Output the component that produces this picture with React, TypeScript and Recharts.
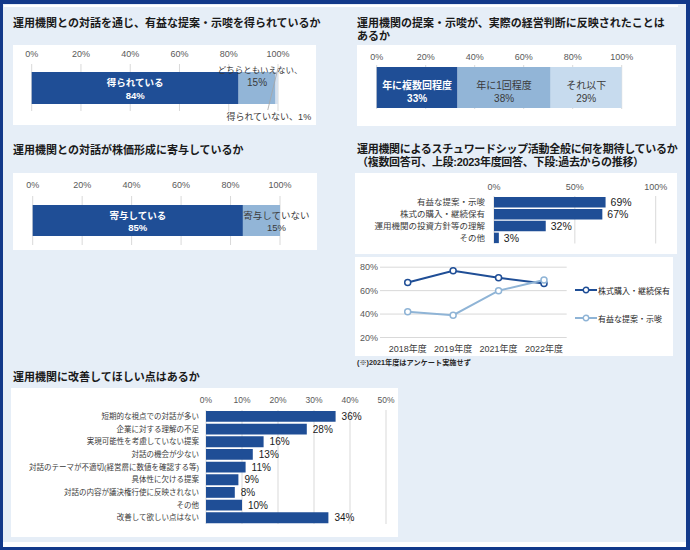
import {
  BarChart,
  Bar,
  XAxis,
  YAxis,
  CartesianGrid,
  LabelList,
  LineChart,
  Line,
} from "recharts";

// 対話を通じて有益な提案・示唆を得られているか
const insightLabels = ["得られている", "どちらともいえない、", "得られていない、"];
const insightValues = [84, 15, 1];

// 提案・示唆が経営判断に反映されたか
const reflectLabels = ["年に複数回程度", "年に1回程度", "それ以下"];
const reflectValues = [33, 38, 29];

// 株価形成に寄与しているか
const priceLabels = ["寄与している", "寄与していない"];
const priceValues = [85, 15];

// スチュワードシップ活動に期待すること (2023年度)
const expectLabels = [
  "有益な提案・示唆",
  "株式の購入・継続保有",
  "運用機関の投資方針等の理解",
  "その他",
];
const expectValues = [69, 67, 32, 3];

// 過去からの推移
const trendYears = ["2018年度", "2019年度", "2021年度", "2022年度"];
const trendHolding = [67, 77, 71, 66];
const trendAdvice = [42, 39, 60, 69];

// 改善してほしい点
const improveLabels = [
  "短期的な視点での対話が多い",
  "企業に対する理解の不足",
  "実現可能性を考慮していない提案",
  "対話の機会が少ない",
  "対話のテーマが不適切(経営層に数値を確認する等)",
  "具体性に欠ける提案",
  "対話の内容が議決権行使に反映されない",
  "その他",
  "改善して欲しい点はない",
];
const improveValues = [36, 28, 16, 13, 11, 9, 8, 10, 34];

const ticks100 = [0, 20, 40, 60, 80, 100];
const ticksExpect = [0, 50, 100];
const ticksTrend = [20, 40, 60, 80];
const ticksImprove = [0, 10, 20, 30, 40, 50];

const FONT = "'Liberation Sans', 'Noto Sans CJK JP', sans-serif";
const BG = "#e6eef7";
const FRAME = "#12398a";
const NAVY = "#1f4e96";
const MID = "#92b5d7";
const PALE = "#c7dbee";
const TINY = "#d6e1ee";
const LIGHT_LINE = "#8fb4d6";
const GRID = "#d9d9d9";
const TICK = "#595959";
const TEXT = "#3a3a3a";

const pct = (v: any) => `${v}%`;

type Seg = { x: number; y: number; w: number; h: number; value: number };

function seg(p: any): Seg {
  const s =
    typeof p.x === "number" && typeof p.width === "number" ? p : p.viewBox ?? p;
  return {
    x: Number(s.x),
    y: Number(s.y),
    w: Number(s.width),
    h: Number(s.height),
    value: Number(p.value),
  };
}

function inside(
  s: Seg,
  lines: string[],
  dy: number[],
  opts: { fill: string; size?: number; bold?: boolean; dx?: number }
) {
  const cx = s.x + s.w / 2 + (opts.dx ?? 0);
  return (
    <g>
      {lines.map((t, i) => (
        <text
          key={i}
          x={cx}
          y={s.y + dy[i]}
          textAnchor="middle"
          dominantBaseline="central"
          fill={opts.fill}
          fontSize={opts.size ?? 10}
          fontWeight={opts.bold ? 700 : 400}
          fontFamily={FONT}
        >
          {t}
        </text>
      ))}
    </g>
  );
}

function Title({ left, top, spacing, children }: any) {
  return (
    <div
      style={{
        position: "absolute",
        left,
        top,
        fontSize: 11,
        lineHeight: "12.5px",
        fontWeight: 700,
        color: "#1a1a1a",
        whiteSpace: "nowrap",
        letterSpacing: spacing ?? 0,
      }}
    >
      {children}
    </div>
  );
}

function Box({ left, top, width, height, children }: any) {
  return (
    <div
      style={{ position: "absolute", left, top, width, height, background: "#fff" }}
    >
      {children}
    </div>
  );
}

function CatTick({ x, y, payload, size }: any) {
  return (
    <text
      x={x}
      y={y}
      textAnchor="end"
      dominantBaseline="central"
      fontSize={size}
      fill={TEXT}
      fontFamily={FONT}
    >
      {payload.value}
    </text>
  );
}

function PctStack({
  width,
  height,
  margin,
  axisHeight,
  tickSize,
  barSize,
  values,
  colors,
  renderers,
}: any) {
  const row: Record<string, number | string> = { name: "total" };
  values.forEach((v: number, i: number) => {
    row[`s${i}`] = v;
  });
  return (
    <BarChart width={width} height={height} data={[row]} layout="vertical" margin={margin}>
      <CartesianGrid horizontal={false} stroke={GRID} />
      <XAxis
        type="number"
        orientation="top"
        domain={[0, 100]}
        ticks={ticks100}
        interval={0}
        tickFormatter={pct}
        axisLine={false}
        tickLine={false}
        height={axisHeight}
        tickSize={tickSize}
        tickMargin={0}
        tick={{ fill: TICK, fontSize: 9, fontFamily: FONT }}
      />
      <YAxis type="category" dataKey="name" hide />
      {values.map((_: number, i: number) => (
        <Bar
          key={i}
          dataKey={`s${i}`}
          stackId="a"
          fill={colors[i]}
          barSize={barSize}
          isAnimationActive={false}
        >
          <LabelList dataKey={`s${i}`} content={renderers[i]} />
        </Bar>
      ))}
    </BarChart>
  );
}

const insightRenderers = [
  (p: any) => {
    const s = seg(p);
    return inside(s, [insightLabels[0], pct(s.value)], [10.5, 23.5], {
      fill: "#fff",
      bold: true,
      size: 9.5,
    });
  },
  (p: any) => {
    const s = seg(p);
    return (
      <g>
        {inside(s, [pct(s.value)], [10.5], { fill: TEXT })}
        {inside(s, [insightLabels[1]], [-2], { fill: TEXT, size: 8.5, dx: 3 })}
      </g>
    );
  },
  (p: any) => {
    const s = seg(p);
    const cx = s.x + s.w / 2;
    return (
      <g>
        <line
          x1={cx + 1}
          y1={s.y - 3}
          x2={cx - 9}
          y2={s.y + s.h + 6}
          stroke="#a6a6a6"
          strokeWidth={0.8}
        />
        <text
          x={cx - 8}
          y={s.y + s.h + 13}
          textAnchor="middle"
          dominantBaseline="central"
          fill={TEXT}
          fontSize={9}
          fontFamily={FONT}
        >
          {insightLabels[2] + pct(s.value)}
        </text>
      </g>
    );
  },
];

const reflectRenderers = [
  (p: any) => {
    const s = seg(p);
    return inside(s, [reflectLabels[0], pct(s.value)], [18.5, 31.8], {
      fill: "#fff",
      bold: true,
    });
  },
  (p: any) => {
    const s = seg(p);
    return inside(s, [reflectLabels[1], pct(s.value)], [18.5, 31.8], { fill: TEXT });
  },
  (p: any) => {
    const s = seg(p);
    return inside(s, [reflectLabels[2], pct(s.value)], [18.5, 31.8], { fill: TEXT });
  },
];

const priceRenderers = [
  (p: any) => {
    const s = seg(p);
    return inside(s, [priceLabels[0], pct(s.value)], [10, 22.7], {
      fill: "#fff",
      bold: true,
      size: 9.5,
    });
  },
  (p: any) => {
    const s = seg(p);
    return inside(s, [priceLabels[1], pct(s.value)], [10, 22.7], {
      fill: TEXT,
      size: 9.5,
      dx: 15,
    });
  },
];

function LegendRow({ top, color, label }: any) {
  return (
    <div
      style={{
        position: "absolute",
        left: 575,
        top,
        height: 10,
        display: "flex",
        alignItems: "center",
        whiteSpace: "nowrap",
      }}
    >
      <svg width={22} height={10}>
        <line x1={0} y1={5} x2={22} y2={5} stroke={color} strokeWidth={2} />
        <circle cx={11} cy={5} r={2.7} fill="#fff" stroke={color} strokeWidth={1.4} />
      </svg>
      <span style={{ fontSize: 8, color: "#262626", marginLeft: 1 }}>{label}</span>
    </div>
  );
}

export default function App() {
  const expectData = expectLabels.map((name, i) => ({ name, value: expectValues[i] }));
  const trendData = trendYears.map((year, i) => ({
    year,
    holding: trendHolding[i],
    advice: trendAdvice[i],
  }));
  const improveData = improveLabels.map((name, i) => ({ name, value: improveValues[i] }));

  return (
    <div
      style={{
        position: "absolute",
        left: 0,
        top: 0,
        width: 690,
        height: 550,
        background: BG,
        fontFamily: FONT,
        overflow: "hidden",
      }}
    >
      <div
        style={{
          position: "absolute",
          left: 0,
          top: 0,
          width: 690,
          height: 550,
          boxSizing: "border-box",
          borderStyle: "solid",
          borderColor: FRAME,
          borderWidth: "4px 4px 3px 3px",
        }}
      />
      <div style={{ position: "absolute", left: 4, top: 5, width: 674, height: 2, background: "#fff" }} />
      <div style={{ position: "absolute", left: 3, top: 542, width: 683, height: 5, background: "#fff" }} />

      <Title left={13} top={17}>
        運用機関との対話を通じ、有益な提案・示唆を得られているか
      </Title>
      <Box left={13} top={45} width={303} height={80}>
        <PctStack
          width={303}
          height={80}
          margin={{ top: 0, right: 38, bottom: 14, left: 18.7 }}
          axisHeight={19}
          tickSize={7}
          barSize={32}
          values={insightValues}
          colors={[NAVY, MID, TINY]}
          renderers={insightRenderers}
        />
      </Box>

      <Title left={357} top={17}>
        運用機関の提案・示唆が、実際の経営判断に反映されたことは
        <br />
        あるか
      </Title>
      <Box left={357} top={45} width={319} height={81}>
        <PctStack
          width={319}
          height={81}
          margin={{ top: 0, right: 54.3, bottom: 17, left: 19.7 }}
          axisHeight={20}
          tickSize={5}
          barSize={41}
          values={reflectValues}
          colors={[NAVY, MID, PALE]}
          renderers={reflectRenderers}
        />
      </Box>

      <Title left={13} top={144}>
        運用機関との対話が株価形成に寄与しているか
      </Title>
      <Box left={13} top={173} width={304} height={77}>
        <PctStack
          width={304}
          height={77}
          margin={{ top: 0, right: 37, bottom: 5, left: 19.7 }}
          axisHeight={23}
          tickSize={8}
          barSize={31}
          values={priceValues}
          colors={[NAVY, MID]}
          renderers={priceRenderers}
        />
      </Box>

      <Title left={357} top={143} spacing={-0.3}>
        運用機関によるスチュワードシップ活動全般に何を期待しているか
        <br />
        （複数回答可、上段:2023年度回答、下段:過去からの推移）
      </Title>
      <Box left={355} top={173} width={322} height={81}>
        <BarChart
          width={322}
          height={81}
          data={expectData}
          layout="vertical"
          margin={{ top: 0, right: 21.3, bottom: 10.5, left: 0 }}
        >
          <CartesianGrid horizontal={false} stroke={GRID} />
          <XAxis
            type="number"
            orientation="top"
            domain={[0, 100]}
            ticks={ticksExpect}
            interval={0}
            tickFormatter={pct}
            axisLine={false}
            tickLine={false}
            height={23}
            tickSize={6}
            tickMargin={0}
            tick={{ fill: TICK, fontSize: 9, fontFamily: FONT }}
          />
          <YAxis
            type="category"
            dataKey="name"
            width={139}
            axisLine={false}
            tickLine={false}
            tickSize={9}
            tickMargin={0}
            interval={0}
            tick={<CatTick size={8.5} />}
          />
          <Bar dataKey="value" fill={NAVY} barSize={10.5} isAnimationActive={false}>
            <LabelList
              dataKey="value"
              position="right"
              offset={5}
              formatter={pct}
              fill="#1a1a1a"
              fontSize={10.5}
              fontFamily={FONT}
            />
          </Bar>
        </BarChart>
      </Box>

      <Box left={355} top={256.5} width={318} height={99.5}>
        <LineChart
          width={318}
          height={99.5}
          data={trendData}
          margin={{ top: 10.2, right: 106.3, bottom: 0, left: 0 }}
        >
          <CartesianGrid vertical={false} stroke={GRID} />
          <XAxis
            dataKey="year"
            axisLine={false}
            tickLine={false}
            height={19}
            tickSize={4}
            tickMargin={4}
            padding={{ left: 27.7, right: 22.7 }}
            interval={0}
            tick={{ fill: TEXT, fontSize: 9, fontFamily: FONT }}
          />
          <YAxis
            domain={[20, 80]}
            ticks={ticksTrend}
            interval={0}
            tickFormatter={pct}
            axisLine={false}
            tickLine={false}
            width={25}
            tickSize={2}
            tickMargin={0}
            tick={{ fill: TICK, fontSize: 9, fontFamily: FONT }}
          />
          <Line
            dataKey="holding"
            stroke={NAVY}
            strokeWidth={2}
            dot={{ r: 3, fill: "#fff", stroke: NAVY, strokeWidth: 1.5 }}
            isAnimationActive={false}
          />
          <Line
            dataKey="advice"
            stroke={LIGHT_LINE}
            strokeWidth={2}
            dot={{ r: 3, fill: "#fff", stroke: LIGHT_LINE, strokeWidth: 1.5 }}
            isAnimationActive={false}
          />
        </LineChart>
      </Box>
      <LegendRow top={285} color={NAVY} label="株式購入・継続保有" />
      <LegendRow top={313} color={LIGHT_LINE} label="有益な提案・示唆" />
      <div
        style={{
          position: "absolute",
          left: 357,
          top: 357.5,
          fontSize: 7.2,
          lineHeight: "9px",
          fontWeight: 700,
          color: "#262626",
          whiteSpace: "nowrap",
        }}
      >
        (※)2021年度はアンケート実施せず
      </div>

      <Title left={13} top={370.5}>
        運用機関に改善してほしい点はあるか
      </Title>
      <Box left={11} top={388} width={387} height={149}>
        <BarChart
          width={387}
          height={149}
          data={improveData}
          layout="vertical"
          margin={{ top: 0, right: 12, bottom: 13, left: 0 }}
        >
          <CartesianGrid horizontal={false} stroke={GRID} />
          <XAxis
            type="number"
            orientation="top"
            domain={[0, 50]}
            ticks={ticksImprove}
            interval={0}
            tickFormatter={pct}
            axisLine={false}
            tickLine={false}
            height={22}
            tickSize={7}
            tickMargin={0}
            tick={{ fill: TICK, fontSize: 8.5, fontFamily: FONT }}
          />
          <YAxis
            type="category"
            dataKey="name"
            width={195}
            axisLine={false}
            tickLine={false}
            tickSize={7}
            tickMargin={0}
            interval={0}
            tick={<CatTick size={7.5} />}
          />
          <Bar dataKey="value" fill={NAVY} barSize={10.8} isAnimationActive={false}>
            <LabelList
              dataKey="value"
              position="right"
              offset={6}
              formatter={pct}
              fill="#1a1a1a"
              fontSize={10}
              fontFamily={FONT}
            />
          </Bar>
        </BarChart>
      </Box>
    </div>
  );
}
